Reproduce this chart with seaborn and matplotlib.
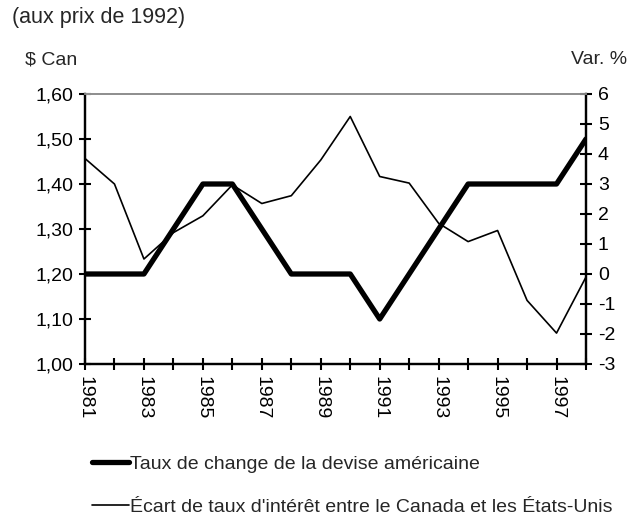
import numpy as np
import pandas as pd
import matplotlib
matplotlib.use("Agg")
import matplotlib.pyplot as plt
import seaborn as sns
from matplotlib.ticker import FuncFormatter, MultipleLocator

# -------------------------------
# Data
# -------------------------------
years = list(range(1981, 1999))
exchange_rate = [1.20, 1.20, 1.20, 1.30, 1.40, 1.40, 1.30, 1.20, 1.20,
                 1.20, 1.10, 1.20, 1.30, 1.40, 1.40, 1.40, 1.40, 1.50]
rate_gap = [3.85, 3.0, 0.5, 1.38, 1.94, 2.97, 2.35, 2.61, 3.8,
            5.25, 3.25, 3.03, 1.69, 1.08, 1.45, -0.88, -1.97, -0.1]

label_rate = "Taux de change de la devise américaine"
label_gap = "Écart de taux d'intérêt entre le Canada et les États-Unis"

df = pd.DataFrame({"year": years, "rate": exchange_rate, "gap": rate_gap})

sns.set_style("white")
plt.rcParams['font.family'] = ['Liberation Sans', 'DejaVu Sans']
plt.rcParams['font.size'] = 14

fig = plt.figure(figsize=(6.39, 5.20), dpi=100)
ax = fig.add_axes([85/639, 1 - 364/520, (586-85)/639, (364-94)/520])
ax2 = ax.twinx()

sns.lineplot(data=df, x="year", y="rate", ax=ax, color="black", linewidth=3.8)
sns.lineplot(data=df, x="year", y="gap", ax=ax2, color="black", linewidth=1.2)

ax.set_xlim(1981, 1998)
ax.set_ylim(1.0, 1.6)
ax2.set_ylim(-3, 6)
ax.set_xlabel("")
ax.set_ylabel("")
ax2.set_ylabel("")

ax.yaxis.set_major_locator(MultipleLocator(0.1))
ax.yaxis.set_major_formatter(FuncFormatter(lambda v, p: f"{v:.2f}".replace(".", ",")))
ax2.yaxis.set_major_locator(MultipleLocator(1))
ax2.yaxis.set_major_formatter(FuncFormatter(lambda v, p: f"{v:.0f}"))

ax.set_xticks(years)
ax.set_xticklabels([str(y) if (y - 1981) % 2 == 0 else "" for y in years],
                   rotation=-90)

for a in (ax, ax2):
    for s in a.spines.values():
        s.set_linewidth(1.6)
        s.set_color("black")
    a.spines["top"].set_color("#909090")
    a.spines["top"].set_linewidth(1.3)
    a.tick_params(direction="inout", length=9, width=1.5, colors="black",
                  labelsize=14, pad=4)
ax.tick_params(axis="y", left=True, right=False)
ax.tick_params(axis="x", bottom=True)
ax2.tick_params(axis="y", right=True, left=False)

fig.text(12/639, 1 - 18/520, "(aux prix de 1992)", ha="left", va="center", fontsize=15.5)
fig.text(25/639, 1 - 60/520, "$ Can", ha="left", va="center", fontsize=14)
fig.text(627/639, 1 - 60/520, "Var. %", ha="right", va="center", fontsize=14)

h1 = plt.Line2D([], [], color="black", linewidth=3.8)
h2 = plt.Line2D([], [], color="black", linewidth=1.2)
fig.legend([h1, h2], [label_rate, label_gap], loc="upper left",
           bbox_to_anchor=(78/639, 1 - 442/520), frameon=False,
           handlelength=1.9, handletextpad=0.05, labelspacing=1.3,
           fontsize=14, borderpad=0.2)

fig.savefig("out.png", dpi=100)
